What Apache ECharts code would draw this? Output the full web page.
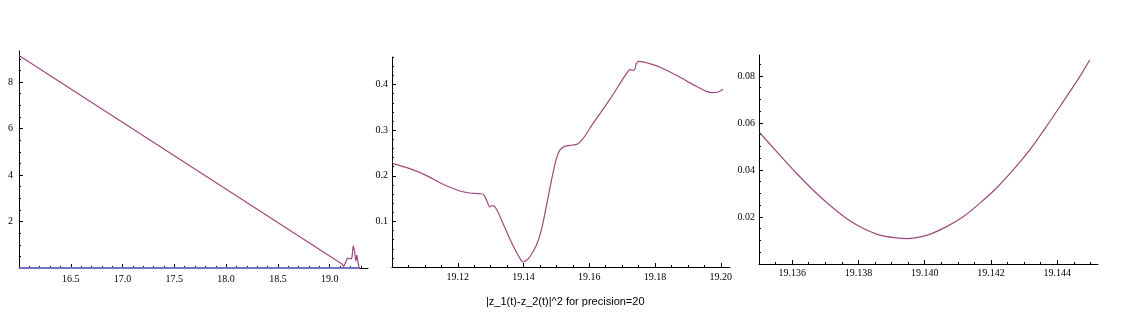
<!DOCTYPE html>
<html>
<head>
<meta charset="utf-8">
<script src="https://cdn.jsdelivr.net/npm/echarts@6/dist/echarts.min.js"></script>
<style>
html, body { margin: 0; padding: 0; background: #fff; }
#main { width: 1146px; height: 330px; }
</style>
</head>
<body>
<div id="main"></div>
<script>
// |z_1(t)-z_2(t)|^2, three zoom levels

// wide view: first sample, then the ripples after 19.20
var wideStartX = [16.0];
var wideStartY = [9.15];
var tailX = [19.205, 19.212, 19.218, 19.224, 19.228, 19.234, 19.240, 19.246, 19.252, 19.257, 19.262, 19.267, 19.273, 19.279, 19.285];
var tailY = [0.36, 0.40, 0.55, 0.85, 0.95, 0.92, 0.75, 0.50, 0.30, 0.38, 0.55, 0.42, 0.26, 0.12, 0.01];
var baseX = [16.0, 19.29];
var baseY = [0, 0];

// middle view 19.10 .. 19.20
var midX = [19.1003, 19.1054, 19.1104, 19.1155, 19.1206, 19.1236, 19.1267, 19.1279, 19.1292, 19.1297, 19.1302,
    19.1307, 19.1317, 19.1338, 19.1358, 19.1378, 19.1393, 19.1398, 19.1406, 19.1419, 19.1439, 19.1454, 19.1469,
    19.1485, 19.1500, 19.1510, 19.1525, 19.1551, 19.1566, 19.1581, 19.1611, 19.1662, 19.1713, 19.1725, 19.1733,
    19.1739, 19.1743, 19.1751, 19.1784, 19.1814, 19.1865, 19.1916, 19.1956, 19.1976, 19.1992, 19.2007];
var midY = [0.2266, 0.2156, 0.2010, 0.1813, 0.1667, 0.1623, 0.1608, 0.1586, 0.1389, 0.1316, 0.1338,
    0.1345, 0.1279, 0.0950, 0.0621, 0.0329, 0.0146, 0.0110, 0.0132, 0.0219, 0.0475, 0.0804, 0.1316,
    0.1901, 0.2376, 0.2558, 0.2646, 0.2675, 0.2705, 0.2814, 0.3143, 0.3670, 0.4240, 0.4327, 0.4313,
    0.4349, 0.4459, 0.4510, 0.4459, 0.4386, 0.4203, 0.3999, 0.3852, 0.3823, 0.3838, 0.3896];

// close view around the minimum
var nearX = [19.13502, 19.13562, 19.13613, 19.13663, 19.13713, 19.13764, 19.13814, 19.13864, 19.13915, 19.13945,
    19.13975, 19.14015, 19.14066, 19.14116, 19.14166, 19.14216, 19.14267, 19.14317, 19.14367, 19.14418, 19.14468, 19.14498];
var nearY = [0.0559, 0.0464, 0.0386, 0.0315, 0.0251, 0.0194, 0.0152, 0.0123, 0.0111, 0.0108,
    0.0112, 0.0126, 0.0159, 0.0201, 0.0258, 0.0322, 0.0400, 0.0485, 0.0584, 0.0691, 0.0797, 0.0868];

// tick labels
var wideXTicks = [16.5, 17.0, 17.5, 18.0, 18.5, 19.0];
var wideYTicks = [2, 4, 6, 8];
var midXTicks = [19.12, 19.14, 19.16, 19.18, 19.20];
var midYTicks = [0.1, 0.2, 0.3, 0.4];
var nearXTicks = [19.136, 19.138, 19.140, 19.142, 19.144];
var nearYTicks = [0.02, 0.04, 0.06, 0.08];

var title = '|z_1(t)-z_2(t)|^2 for precision=20';
var lineColor = '#a0487e';
var baseColor = '#7373c4';

function zip(xs, ys) {
    return xs.map(function (x, i) { return [x, ys[i]]; });
}

function minors(min, max, step) {
    var out = [];
    var n = Math.ceil(min / step - 1e-6);
    for (var v = n * step; v <= max + 1e-9; v = (++n) * step) {
        out.push(+v.toFixed(6));
    }
    return out;
}

var labelFont = { fontFamily: 'Liberation Serif', fontSize: 10, color: '#000' };

function xPair(grid, min, max, majors, minorStep, digits, margin) {
    return [{
        type: 'value', gridIndex: grid, min: min, max: max, position: 'bottom',
        axisLine: { onZero: false, lineStyle: { color: '#000', width: 1 } },
        axisTick: { inside: true, length: 4, customValues: majors, lineStyle: { color: '#000' } },
        axisLabel: Object.assign({ margin: margin, customValues: majors, formatter: function (v) { return v.toFixed(digits); } }, labelFont),
        splitLine: { show: false }
    }, {
        type: 'value', gridIndex: grid, min: min, max: max, position: 'bottom',
        axisLine: { show: false, onZero: false },
        axisTick: { inside: true, length: 2, customValues: minors(min, max, minorStep), lineStyle: { color: '#000' } },
        axisLabel: { show: false },
        splitLine: { show: false }
    }];
}

function yPair(grid, max, majors, minorStep, digits, margin) {
    return [{
        type: 'value', gridIndex: grid, min: 0, max: max, position: 'left',
        axisLine: { show: true, onZero: false, lineStyle: { color: '#000', width: 1 } },
        axisTick: { show: true, inside: true, length: 4, customValues: majors, lineStyle: { color: '#000' } },
        axisLabel: Object.assign({ margin: margin, customValues: majors, formatter: function (v) { return v.toFixed(digits); } }, labelFont),
        splitLine: { show: false }
    }, {
        type: 'value', gridIndex: grid, min: 0, max: max, position: 'left',
        axisLine: { show: false, onZero: false },
        axisTick: { show: true, inside: true, length: 2, customValues: minors(0, max, minorStep), lineStyle: { color: '#000' } },
        axisLabel: { show: false },
        splitLine: { show: false }
    }];
}

var chart = echarts.init(document.getElementById('main'));

var option = {
    animation: false,
    backgroundColor: '#fff',
    title: {
        text: title,
        left: 481,
        top: 291,
        textStyle: { fontFamily: 'Liberation Sans', fontSize: 11, fontWeight: 'normal', color: '#000' }
    },
    grid: [
        { left: 19, top: 51, width: 349, height: 217 },
        { left: 392, top: 57, width: 338, height: 210 },
        { left: 759, top: 55, width: 339, height: 209 }
    ],
    xAxis: [].concat(
        xPair(0, 16.0, 19.37, wideXTicks, 0.1, 1, 6),
        xPair(1, 19.10, 19.2028, midXTicks, 0.005, 2, 5),
        xPair(2, 19.135, 19.14523, nearXTicks, 0.0005, 3, 4)
    ),
    yAxis: [].concat(
        yPair(0, 9.34, wideYTicks, 0.5, 0, 6),
        yPair(1, 0.4605, midYTicks, 0.02, 1, 4),
        yPair(2, 0.0889, nearYTicks, 0.005, 2, 4)
    ),
    series: [
        {
            type: 'line', xAxisIndex: 0, yAxisIndex: 0, z: 1,
            data: zip(baseX, baseY),
            showSymbol: false,
            lineStyle: { color: baseColor, width: 2 }
        },
        {
            type: 'line', xAxisIndex: 0, yAxisIndex: 0,
            data: zip(wideStartX.concat(midX, tailX), wideStartY.concat(midY, tailY)),
            showSymbol: false,
            lineStyle: { color: lineColor, width: 1.2 }
        },
        {
            type: 'line', xAxisIndex: 2, yAxisIndex: 2,
            data: zip(midX, midY),
            showSymbol: false, smooth: 0.3,
            lineStyle: { color: lineColor, width: 1.2 }
        },
        {
            type: 'line', xAxisIndex: 4, yAxisIndex: 4,
            data: zip(nearX, nearY),
            showSymbol: false, smooth: 0.3,
            lineStyle: { color: lineColor, width: 1.2 }
        }
    ]
};

chart.setOption(option);
</script>
</body>
</html>
